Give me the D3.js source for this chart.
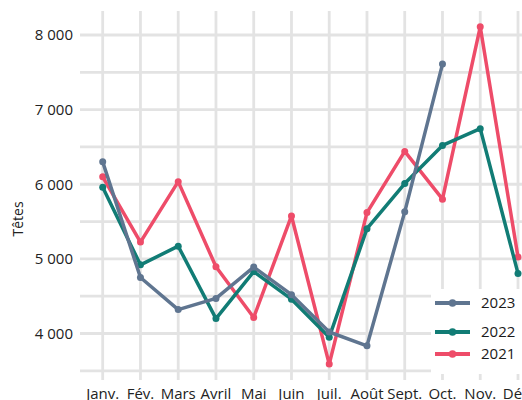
<!DOCTYPE html>
<html>
<head>
    <meta charset="utf-8">
    <title>Têtes par mois</title>
    <script src="https://cdn.jsdelivr.net/npm/d3@7"></script>
    <style>
        body { margin: 0; background: #fff; }
        text { font-family: "Open Sans", "Noto Sans", sans-serif; }
    </style>
</head>
<body>
    <svg width="522" height="400" id="mainSvg"></svg>
    <script>
        const months = ["Janv.", "Fév.", "Mars", "Avril", "Mai", "Juin", "Juil.", "Août", "Sept.", "Oct.", "Nov.", "Déc."];
        const years = ["2023", "2022", "2021"];
        const colors = ["#5f7590", "#117c75", "#ee4c69"];
        const values2023 = [6300, 4750, 4320, 4470, 4890, 4520, 4020, 3835, 5630, 7610];
        const values2022 = [5960, 4920, 5170, 4200, 4830, 4460, 3950, 5405, 6010, 6520, 6745, 4805];
        const values2021 = [6100, 5225, 6035, 4895, 4215, 5575, 3590, 5620, 6440, 5800, 8110, 5025];
        const yTicks = [4000, 5000, 6000, 7000, 8000];
        const yMinor = [3500, 4500, 5500, 6500, 7500];

        const series = [values2023, values2022, values2021];

        const svg = d3.select("#mainSvg");
        const panel = { left: 80, right: 522, top: 11, bottom: 380 };

        const x = d3.scalePoint().domain(months).range([102.7, 518]);
        const y = d3.scaleLinear().domain([4000, 8000]).range([333.5, 35]);

        const grid = svg.append("g").attr("stroke", "#e3e3e3").attr("stroke-width", 2.8);
        grid.selectAll(".h").data(yTicks.concat(yMinor)).join("line")
            .attr("x1", panel.left).attr("x2", panel.right)
            .attr("y1", d => y(d)).attr("y2", d => y(d));
        grid.selectAll(".v").data(months).join("line")
            .attr("x1", d => x(d)).attr("x2", d => x(d))
            .attr("y1", panel.top).attr("y2", panel.bottom);

        const fmt = d => d3.format(",")(d).replace(",", " ");
        svg.append("g").selectAll("text").data(yTicks).join("text")
            .attr("x", 73).attr("y", d => y(d)).attr("dy", "0.36em")
            .attr("text-anchor", "end").attr("font-size", 15).attr("fill", "#222")
            .text(fmt);

        svg.append("g").selectAll("text").data(months).join("text")
            .attr("x", d => x(d)).attr("y", 399)
            .attr("text-anchor", "middle").attr("font-size", 15).attr("fill", "#222")
            .text(d => d);

        svg.append("text")
            .attr("transform", "translate(23,219) rotate(-90)")
            .attr("text-anchor", "middle").attr("font-size", 14).attr("fill", "#222")
            .text("Têtes");

        const line = d3.line().x((d, i) => x(months[i])).y(d => y(d));

        // 2021 dessous, 2023 dessus
        [2, 1, 0].forEach(k => {
            const g = svg.append("g");
            g.append("path").datum(series[k])
                .attr("d", line).attr("fill", "none")
                .attr("stroke", colors[k]).attr("stroke-width", 3.5)
                .attr("stroke-linejoin", "round");
            g.selectAll("circle").data(series[k]).join("circle")
                .attr("cx", (d, i) => x(months[i])).attr("cy", d => y(d))
                .attr("r", 3.5).attr("fill", colors[k]);
        });

        const legend = svg.append("g");
        legend.append("rect").attr("x", 431).attr("y", 289).attr("width", 91).attr("height", 85).attr("fill", "#fff");
        const legY = [303, 332, 354];
        years.forEach((yr, i) => {
            legend.append("line").attr("x1", 435).attr("x2", 470)
                .attr("y1", legY[i]).attr("y2", legY[i])
                .attr("stroke", colors[i]).attr("stroke-width", 3.8);
            legend.append("circle").attr("cx", 452.5).attr("cy", legY[i]).attr("r", 3.8).attr("fill", colors[i]);
            legend.append("text").attr("x", 481).attr("y", legY[i]).attr("dy", "0.36em")
                .attr("font-size", 15).attr("fill", "#1a1a1a").text(yr);
        });
    </script>
</body>
</html>
